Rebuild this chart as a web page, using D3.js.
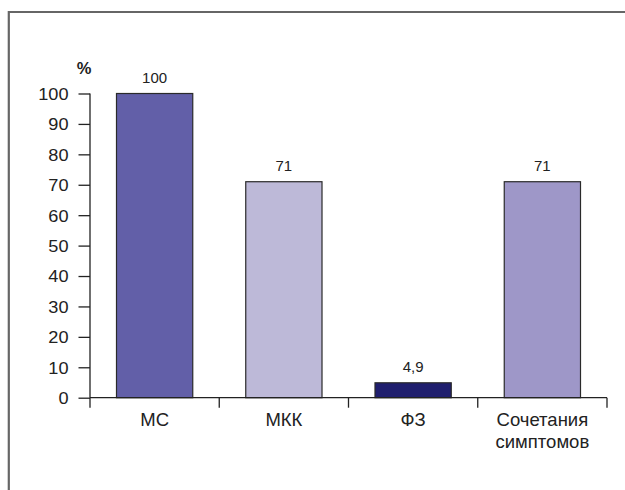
<!DOCTYPE html>
<html>
<head>
<meta charset="utf-8">
<script src="https://cdn.jsdelivr.net/npm/d3@7"></script>
<style>
  html, body { margin: 0; padding: 0; background: #fff; }
  svg { display: block; font-family: "Liberation Sans", Arial, Helvetica, sans-serif; }
</style>
</head>
<body>
<svg id="chart" width="625" height="490"></svg>
<script>
// Share of patients by symptom group, %
const categories = ["МС", "МКК", "ФЗ", "Сочетания симптомов"];
const values = [100, 71, 4.9, 71];
const valueLabels = ["100", "71", "4,9", "71"];
const barColors = ["#625fa8", "#bdb9d8", "#1f1e6e", "#9e97c8"];
const yTicks = [0, 10, 20, 30, 40, 50, 60, 70, 80, 90, 100];

const svg = d3.select("#chart");
const textColor = "#222";
const fontFamily = "Liberation Sans, Arial, Helvetica, sans-serif";

// Outer frame: left and top edges only
svg.append("path")
  .attr("d", "M8.8,490 L8.8,12 L625,12")
  .attr("fill", "none")
  .attr("stroke", "#666")
  .attr("stroke-width", 2.2);

const x0 = 90, x1 = 607, yTop = 93.5, yBottom = 397.7;

const x = d3.scaleBand().domain(categories).range([x0, x1]).paddingInner(0.41).paddingOuter(0.205);
const y = d3.scaleLinear().domain([0, 100]).range([yBottom, yTop]);

// Bars
svg.append("g").selectAll("rect")
  .data(categories)
  .join("rect")
  .attr("x", d => x(d))
  .attr("width", x.bandwidth())
  .attr("y", (d, i) => y(values[i]))
  .attr("height", (d, i) => y(0) - y(values[i]))
  .attr("fill", (d, i) => barColors[i])
  .attr("stroke", "#2a2a2a")
  .attr("stroke-width", 1.2);

// Value labels above the bars
svg.append("g").selectAll("text")
  .data(categories)
  .join("text")
  .attr("x", d => x(d) + x.bandwidth() / 2)
  .attr("y", (d, i) => y(values[i]) - 10.6)
  .attr("text-anchor", "middle")
  .attr("font-size", 15)
  .attr("font-family", fontFamily)
  .attr("fill", textColor)
  .text((d, i) => valueLabels[i]);

// Y axis
const yAxis = svg.append("g")
  .attr("transform", `translate(${x0},0)`)
  .call(d3.axisLeft(y).tickValues(yTicks).tickSize(11.5).tickPadding(10).tickFormat(d3.format("d")));
yAxis.select(".domain").attr("stroke", "#222").attr("stroke-width", 1.3).attr("d", `M0,${yTop}V${yBottom}`);
yAxis.selectAll(".tick line").attr("stroke", "#222").attr("stroke-width", 1.3);
yAxis.selectAll(".tick text")
  .attr("x", null)
  .attr("dy", "0.36em")
  .attr("transform", "translate(-21.5,0) scale(1.1,1)")
  .attr("font-size", 16.5)
  .attr("fill", textColor)
  .attr("font-family", fontFamily);

// X axis with tick marks at band boundaries
const xAxisG = svg.append("g").attr("transform", `translate(0,${yBottom})`);
xAxisG.append("line")
  .attr("x1", x0).attr("x2", x1)
  .attr("stroke", "#222").attr("stroke-width", 1.3);
const bounds = categories.map(d => x(d) - x.step() * x.paddingInner() / 2).concat([x1]);
bounds[0] = x0;
xAxisG.selectAll("line.tk")
  .data(bounds)
  .join("line")
  .attr("class", "tk")
  .attr("x1", d => d).attr("x2", d => d)
  .attr("y1", 0).attr("y2", 10)
  .attr("stroke", "#222").attr("stroke-width", 1.3);

// Category labels (wrapped on spaces)
xAxisG.selectAll("text")
  .data(categories)
  .join("text")
  .attr("text-anchor", "middle")
  .attr("font-size", 18.5)
  .attr("font-family", fontFamily)
  .attr("fill", textColor)
  .each(function (d) {
    const words = d.split(" ");
    const t = d3.select(this);
    words.forEach((w, i) => {
      t.append("tspan")
        .attr("x", x(d) + x.bandwidth() / 2)
        .attr("y", 28 + i * 22.5)
        .text(w);
    });
  });

// Unit label
svg.append("text")
  .attr("x", 84)
  .attr("y", 74)
  .attr("text-anchor", "middle")
  .attr("font-size", 16.5)
  .attr("font-weight", "bold")
  .attr("font-family", fontFamily)
  .attr("fill", textColor)
  .text("%");
</script>
</body>
</html>
